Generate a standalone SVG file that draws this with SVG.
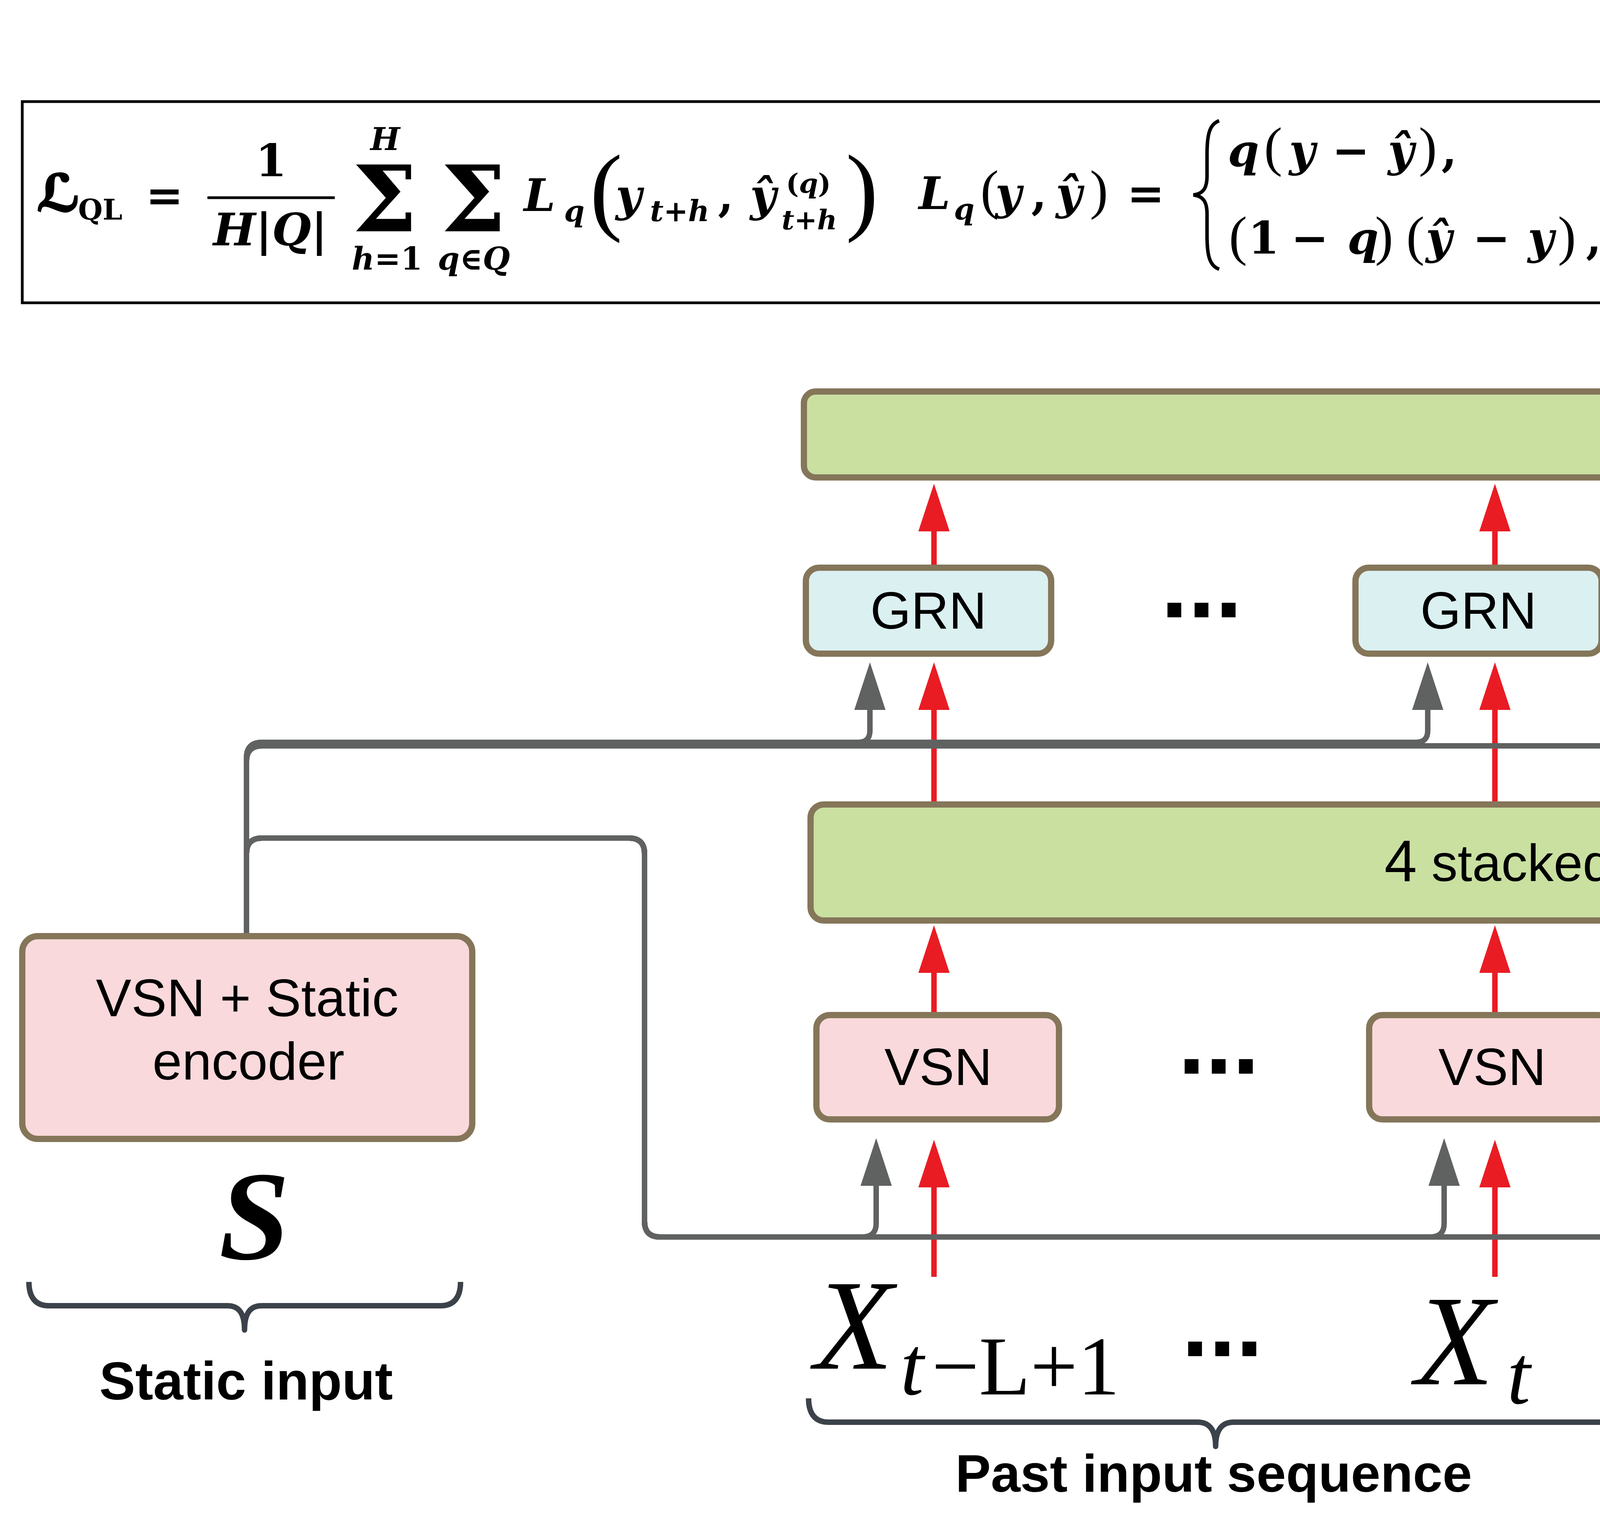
<svg xmlns="http://www.w3.org/2000/svg" width="7291" height="3939" viewBox="0 0 7291 3939">
<style>
.box{stroke:#85765a;stroke-width:16}
.grnd{fill:#bfe5e1}.grn{fill:#dbf0f1}.vsn{fill:#f9d9db}.mamba{fill:#c9e0a1}
.lbl{font-family:"Liberation Sans",Arial,sans-serif;font-size:134px;fill:#000;text-anchor:middle}
.red{stroke:#e91c24;stroke-width:14;fill:none;marker-end:url(#ar)}
.gray{stroke:#606262;stroke-width:14;fill:none;marker-end:url(#ag)}
.dots{font-family:"Liberation Sans",Arial,sans-serif;font-weight:bold;font-size:250px;text-anchor:middle;fill:#000}
.brace{stroke:#3c424a;stroke-width:14;fill:none;stroke-linejoin:round}
.cap{font-family:"Liberation Sans",Arial,sans-serif;font-weight:bold;font-size:137px;text-anchor:middle;fill:#000}
.xl{font-family:"Liberation Serif","Times New Roman",serif;font-size:330px;font-style:italic;fill:#000}
.yh{font-family:"Liberation Serif","Times New Roman",serif;font-weight:bold;font-size:178px;fill:#000}
.fm{font-family:"DejaVu Serif","DejaVu Sans",serif;font-weight:bold;font-style:italic;font-size:115px;fill:#000}
.fu{font-family:"DejaVu Serif","DejaVu Sans",serif;font-weight:bold;font-size:115px;fill:#000}
.fp{font-family:"Liberation Serif","Times New Roman",serif;font-size:140px;fill:#000}
.n{font-style:normal}
</style>
<defs>
<marker id="ar" viewBox="0 0 122 80" refX="0" refY="40" markerWidth="122" markerHeight="80" markerUnits="userSpaceOnUse" orient="auto"><path d="M0,0 L122,40 L0,80 Z" fill="#e91c24"/></marker>
<marker id="ag" viewBox="0 0 122 80" refX="0" refY="40" markerWidth="122" markerHeight="80" markerUnits="userSpaceOnUse" orient="auto"><path d="M0,0 L122,40 L0,80 Z" fill="#606262"/></marker>
</defs>
<rect width="7291" height="3939" fill="#fff"/>

<g id="formula">
<rect x="57" y="260" width="4571" height="515" fill="none" stroke="#000" stroke-width="7"/>
<text class="fm" x="94" y="540" style="font-size:130px" stroke="#000" stroke-width="5">ℒ</text>
<text class="fu" x="200" y="562" style="font-size:72px">QL</text>
<text class="fu" x="373" y="540">=</text>
<text class="fu" x="694" y="451" text-anchor="middle">1</text>
<line x1="531" y1="506" x2="857" y2="506" stroke="#000" stroke-width="7"/>
<text class="fm" x="692" y="628" text-anchor="middle">H<tspan class="n">|</tspan>Q<tspan class="n">|</tspan></text>
<text class="fm" x="986" y="384" style="font-size:80px" text-anchor="middle">H</text>
<text class="fu" x="985" y="592" style="font-size:235px" text-anchor="middle">Σ</text>
<text class="fu" x="1212" y="592" style="font-size:235px" text-anchor="middle">Σ</text>
<text class="fm" x="991" y="690" style="font-size:80px" text-anchor="middle">h<tspan class="n">=1</tspan></text>
<text class="fm" x="1213" y="690" style="font-size:80px" text-anchor="middle">q<tspan class="n">∈</tspan>Q</text>
<text class="fm" x="1341" y="540">L<tspan x="1444" y="566" style="font-size:75px">q</tspan></text>
<text class="fp" x="1510" y="569" style="font-size:250px">(</text>
<text class="fm" x="1576" y="540">y<tspan x="1664" y="566" style="font-size:75px">t</tspan><tspan class="n" style="font-size:75px">+</tspan><tspan style="font-size:75px">h</tspan><tspan class="n" x="1838" y="540">,</tspan></text>
<text class="fm" x="1920" y="540">ŷ</text>
<text class="fm" x="2012" y="494" style="font-size:70px"><tspan class="n">(</tspan>q<tspan class="n">)</tspan></text>
<text class="fm" x="2001" y="587" style="font-size:70px">t<tspan class="n">+</tspan>h</text>
<text class="fp" x="2165" y="569" style="font-size:250px">)</text>

<text class="fm" x="2352" y="535">L<tspan x="2442" y="561" style="font-size:75px">q</tspan></text>
<text class="fp" x="2510" y="533">(</text>
<text class="fm" x="2548" y="535">y<tspan class="n" x="2640">,</tspan><tspan x="2703">ŷ</tspan></text>
<text class="fp" x="2790" y="533">)</text>
<text class="fu" x="2885" y="535">=</text>
<path d="M3121,309 C3096,318 3090,345 3090,395 L3090,450 C3090,482 3080,496 3055,499 C3080,502 3090,516 3090,548 L3090,603 C3090,653 3096,680 3121,689" fill="none" stroke="#000" stroke-width="9"/>
<text class="fm" y="425"><tspan x="3143">q</tspan><tspan class="n" x="3410">−</tspan><tspan x="3300">y</tspan><tspan x="3553">ŷ</tspan><tspan class="n" x="3690">,</tspan><tspan x="4217">y</tspan><tspan class="n" x="4330">≥</tspan><tspan x="4493">ŷ</tspan></text>
<text class="fp" y="423"><tspan x="3236">(</tspan><tspan x="3632">)</tspan></text>
<text class="fm" y="649"><tspan class="n" x="3195">1</tspan><tspan class="n" x="3305">−</tspan><tspan x="3449">q</tspan><tspan x="3650">ŷ</tspan><tspan class="n" x="3770">−</tspan><tspan x="3911">y</tspan><tspan class="n" x="4060">,</tspan><tspan x="4217">y</tspan><tspan class="n" x="4340">&lt;</tspan><tspan x="4493">ŷ</tspan></text>
<text class="fp" y="651"><tspan x="3146">(</tspan><tspan x="3520">)</tspan><tspan x="3600">(</tspan><tspan x="3988">)</tspan></text>
</g>

<g id="connectors">
<path class="red" d="M5325,477 V396"/>
<path class="red" d="M6823,477 V396"/>
<path class="red" d="M5325,995 V905"/>
<path class="red" d="M6823,995 V905"/>
<path class="red" d="M2391,1445 V1360"/>
<path class="red" d="M3827,1445 V1360"/>
<path class="red" d="M5325,1445 V1360"/>
<path class="red" d="M6823,1445 V1360"/>
<path class="red" d="M2391,2051 V1817"/>
<path class="red" d="M3827,2051 V1817"/>
<path class="red" d="M5325,2051 V1817"/>
<path class="red" d="M6823,2051 V1817"/>
<path class="red" d="M2391,2590 V2490"/>
<path class="red" d="M3827,2590 V2490"/>
<path class="red" d="M5325,2590 V2490"/>
<path class="red" d="M6823,2590 V2490"/>
<path class="red" d="M2391,3268 V3039"/>
<path class="red" d="M3827,3268 V3039"/>
<path class="red" d="M5325,3268 V3039"/>
<path class="red" d="M6823,3268 V3039"/>
<path class="gray" d="M631,2396 V1940 Q631,1900 671,1900 H2197 Q2227,1900 2227,1870 V1817"/>
<path class="gray" d="M631,2396 V1940 Q631,1900 671,1900 H3625 Q3655,1900 3655,1870 V1817"/>
<path class="gray" d="M631,2396 V1949 Q631,1909 671,1909 H5099 Q5129,1909 5129,1879 V1817"/>
<path class="gray" d="M631,2396 V1949 Q631,1909 671,1909 H6615 Q6655,1909 6655,1869 V1817"/>
<path class="gray" d="M631,2396 V2185 Q631,2145 671,2145 H1610 Q1650,2145 1650,2185 V3126 Q1650,3166 1690,3166 H2208 Q2243,3166 2243,3131 V3035"/>
<path class="gray" d="M631,2396 V2185 Q631,2145 671,2145 H1610 Q1650,2145 1650,2185 V3126 Q1650,3166 1690,3166 H3662 Q3697,3166 3697,3131 V3035"/>
<path class="gray" d="M631,2396 V2185 Q631,2145 671,2145 H1610 Q1650,2145 1650,2185 V3126 Q1650,3166 1690,3166 H5159 Q5194,3166 5194,3131 V3035"/>
<path class="gray" d="M631,2396 V2185 Q631,2145 671,2145 H1610 Q1650,2145 1650,2185 V3126 Q1650,3166 1690,3166 H6661 Q6701,3166 6701,3126 V3035"/>
</g>

<g id="out1"><text class="yh" x="5138" y="215">ŷ<tspan x="5229" y="269" style="font-size:100px">t+1</tspan><tspan x="5394" y="215">(q)</tspan></text></g>
<g id="outH"><text class="yh" x="6625" y="188">ŷ<tspan x="6712" y="245" style="font-size:100px">t+H</tspan><tspan x="6905" y="188">(q)</tspan></text></g>

<g id="grnDense1"><rect class="box grnd" x="4848" y="504" width="998" height="242" rx="38"/><text class="lbl" x="5320" y="669" style="font-size:130px">GRN + Dense</text></g>
<g id="grnDenseH"><rect class="box grnd" x="6236" y="504" width="1009" height="242" rx="38"/><text class="lbl" x="6715" y="669" style="font-size:130px">GRN + Dense</text></g>
<text class="dots" x="6029" y="641">...</text>

<g id="lightMamba"><rect class="box mamba" x="2058" y="1002" width="5042" height="220" rx="30"/><text class="lbl" x="4560" y="1148">Light Mamba</text></g>

<g id="grn1"><rect class="box grn" x="2063" y="1453" width="628" height="220" rx="34"/><text class="lbl" x="2377" y="1609">GRN</text></g>
<g id="grn2"><rect class="box grn" x="3470" y="1453" width="630" height="220" rx="34"/><text class="lbl" x="3785" y="1609">GRN</text></g>
<g id="grn3"><rect class="box grn" x="4953" y="1453" width="628" height="220" rx="34"/><text class="lbl" x="5267" y="1609">GRN</text></g>
<g id="grn4"><rect class="box grn" x="6440" y="1453" width="628" height="220" rx="34"/><text class="lbl" x="6754" y="1609">GRN</text></g>
<text class="dots" x="3076" y="1580">...</text>
<text class="dots" x="6028" y="1580">...</text>

<g id="mambaLocal"><rect class="box mamba" x="2075" y="2059" width="5051" height="297" rx="34"/><text class="lbl" x="4606" y="2255"><tspan style="font-size:150px">4</tspan> stacked Mamba Local Processing</text></g>

<g id="vsn1"><rect class="box vsn" x="2090" y="2598" width="621" height="267" rx="34"/><text class="lbl" x="2402" y="2777">VSN</text></g>
<g id="vsn2"><rect class="box vsn" x="3505" y="2598" width="621" height="267" rx="34"/><text class="lbl" x="3820" y="2777">VSN</text></g>
<g id="vsn3"><rect class="box vsn" x="5049" y="2598" width="621" height="267" rx="34"/><text class="lbl" x="5362" y="2777">VSN</text></g>
<g id="vsn4"><rect class="box vsn" x="6499" y="2598" width="621" height="267" rx="34"/><text class="lbl" x="6810" y="2777">VSN</text></g>
<text class="dots" x="3120" y="2748">...</text>
<text class="dots" x="6031" y="2748">...</text>

<g id="staticEncoder"><rect class="box vsn" x="57" y="2396" width="1152" height="519" rx="40"/><text class="lbl" x="633" y="2601" style="font-size:136px">VSN + Static</text><text class="lbl" x="636" y="2763" style="font-size:136px">encoder</text></g>

<g id="staticInput">
<text x="651" y="3222" text-anchor="middle" font-family="Liberation Serif, serif" font-weight="bold" font-style="italic" font-size="325">S</text>
<path class="brace" d="M74,3281 C74,3322 92,3342 125,3342 L582,3342 C612,3342 626,3362 626,3404 C626,3362 640,3342 670,3342 L1128,3342 C1161,3342 1179,3322 1179,3281"/>
<text class="cap" x="630" y="3582" style="font-size:138px">Static input</text>
</g>

<g id="pastInput">
<text class="xl" x="2085" y="3503">X<tspan x="2305" y="3569" style="font-size:215px">t</tspan><tspan class="n" x="2385" style="font-size:215px">−L+1</tspan></text>
<text class="dots" x="3129" y="3471">...</text>
<text class="xl" x="3623" y="3543">X<tspan x="3858" y="3592" style="font-size:215px">t</tspan></text>
<path class="brace" d="M2070,3579 C2070,3620 2088,3640 2121,3640 L3066,3640 C3096,3640 3112,3660 3112,3702 C3112,3660 3128,3640 3158,3640 L4109,3640 C4142,3640 4160,3620 4160,3579"/>
<text class="cap" x="3107" y="3818" style="font-size:136px">Past input sequence</text>
</g>

<g id="futureInput">
<text class="xl" x="5150" y="3530">X<tspan x="5385" y="3578" style="font-size:215px">t</tspan><tspan class="n" x="5455" style="font-size:215px">+1</tspan></text>
<text class="dots" x="6030" y="3472">...</text>
<text class="xl" x="6525" y="3517">X<tspan x="6760" y="3565" style="font-size:215px">t</tspan><tspan class="n" x="6832" style="font-size:215px">+</tspan><tspan x="6985" style="font-size:215px">H</tspan></text>
<path class="brace" d="M5121,3580 C5121,3620 5139,3639 5172,3639 L6140,3639 C6170,3639 6186,3659 6186,3701 C6186,3659 6202,3639 6232,3639 L7205,3639 C7238,3639 7256,3620 7256,3580"/>
<text class="cap" x="6252" y="3835" style="font-size:138px">Future known input sequence</text>
</g>
</svg>
